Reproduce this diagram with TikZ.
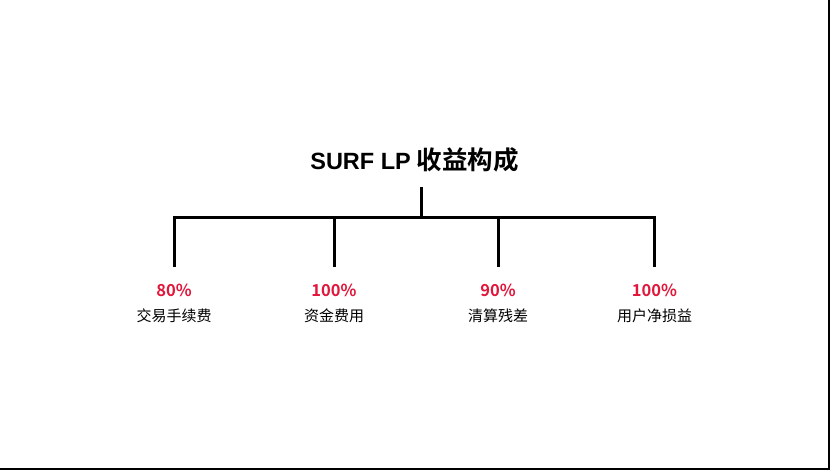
\documentclass[tikz,border=0pt]{standalone}
\usepackage{fontspec}
\setmainfont{Noto Sans CJK SC}[BoldFont={Noto Sans CJK SC Bold}]
\newfontfamily\latinbold{Liberation Sans}[UprightFont={* Bold}]
\definecolor{pctred}{RGB}{225,22,58}
\begin{document}
\begin{tikzpicture}[x=1pt,y=-1pt,
  conn/.style={line width=3pt,black},
  titlebox/.style={font=\fontsize{25.5}{30}\selectfont\bfseries,inner sep=0pt},
  pctbox/.style={font=\fontsize{16.5}{19}\selectfont\bfseries,text=pctred,inner sep=0pt},
  namebox/.style={font=\fontsize{15}{18}\selectfont,inner sep=0pt},
  frameline/.style={line width=1.5pt,black}]
\useasboundingbox (0,0) rectangle (830,470);
\fill[white] (0,0) rectangle (830,470);
\draw[frameline] (829,0) -- (829,469) -- (0,469);
\node[titlebox] (title) at (414.5,160) {{\latinbold\fontsize{23.5}{28}\selectfont SURF LP} 收益构成};
\coordinate (stemtop) at (421,187);
\coordinate (stembot) at (421,217.5);
\coordinate (barL) at (174,217.5);
\coordinate (barR) at (654.5,217.5);
\coordinate (b1) at (174,267);
\coordinate (b2) at (334,267);
\coordinate (b3) at (498,267);
\coordinate (b4) at (654.5,267);
\draw[conn] (stemtop) -- (stembot);
\draw[conn,line join=miter] (b1) -- (barL) -- (barR) -- (b4);
\draw[conn] (b2) -- (b2 |- barL);
\draw[conn] (b3) -- (b3 |- barL);
\node[pctbox] (p1) at (174,290) {80\%};
\node[pctbox] (p2) at (334,290) {100\%};
\node[pctbox] (p3) at (498,290) {90\%};
\node[pctbox] (p4) at (654.5,290) {100\%};
\node[namebox] (n1) at (174,316) {交易手续费};
\node[namebox] (n2) at (334,316) {资金费用};
\node[namebox] (n3) at (498,316) {清算残差};
\node[namebox] (n4) at (654.5,316) {用户净损益};
\end{tikzpicture}
\end{document}
